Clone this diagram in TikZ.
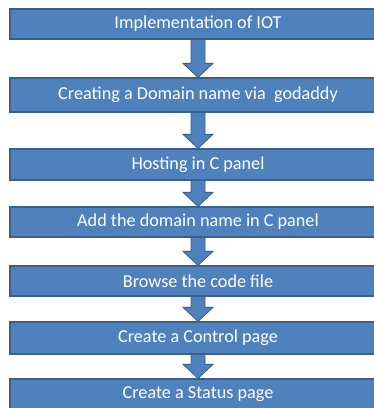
\documentclass[tikz,border=0pt]{standalone}
\usepackage{fontspec}
\setmainfont{Carlito}
\usetikzlibrary{calc}
\definecolor{boxfill}{HTML}{4F81BD}
\definecolor{boxline}{HTML}{3A5F8C}
\tikzset{
  x=1pt, y=1pt,
  stepbox/.style={draw=boxline, line width=1.2pt, fill=boxfill, text=white,
    minimum width=376pt, inner sep=0pt, font=\fontsize{18.2}{21}\selectfont},
  flowarrow/.style={draw=boxline, line width=0.8pt, fill=boxfill, line join=miter}
}
% block arrow from the bottom of one box to the top of the next
\newcommand\blockarrow[2]{%
  \path let \p1=(#1.south), \p2=(#2.north) in
    [flowarrow] (\x1-7,\y1) -- (\x1-7,\y2+14) -- (\x1-15,\y2+14) -- (\x1,\y2)
    -- (\x1+15,\y2+14) -- (\x1+7,\y2+14) -- (\x1+7,\y1) -- cycle;}
\begin{document}
\begin{tikzpicture}
\useasboundingbox (0,0) rectangle (374,408);
\clip (0,0) rectangle (374,408);
\fill[white] (0,0) rectangle (374,408);
\node[stepbox, minimum height=30pt] (s1) at (198,408-24) {Implementation of IOT};
\node[stepbox, minimum height=34pt] (s2) at (198,408-95) {Creating a Domain name via\ \ godaddy};
\node[stepbox, minimum height=31pt] (s3) at (198,408-164.5) {Hosting in C panel};
\node[stepbox, minimum height=30pt] (s4) at (198,408-222) {Add the domain name in C panel};
\node[stepbox, minimum height=30pt] (s5) at (198,408-281) {Browse the code file};
\node[stepbox, minimum height=32pt] (s6) at (198,408-338) {Create a Control page};
\node[stepbox, minimum height=30pt] (s7) at (198,408-394) {Create a Status page};
\blockarrow{s1}{s2}
\blockarrow{s2}{s3}
\blockarrow{s3}{s4}
\blockarrow{s4}{s5}
\blockarrow{s5}{s6}
\blockarrow{s6}{s7}
\end{tikzpicture}
\end{document}
